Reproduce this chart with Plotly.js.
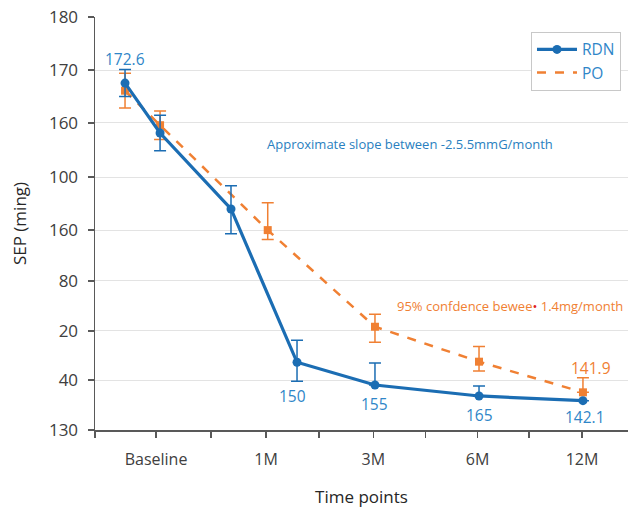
<!DOCTYPE html>
<html>
<head>
<meta charset="utf-8">
<script src="https://cdn.plot.ly/plotly-3.0.1.min.js"></script>
<style>html,body{margin:0;padding:0;background:#fff;}#chart{width:641px;height:508px;}</style>
</head>
<body>
<div id="chart"></div>
<script>
// Category axis
const categories = ['Baseline', '1M', '3M', '6M', '12M'];
const categoryPos = [0, 1.033, 2.04, 3.02, 4.0];
const minorTickPos = [-0.573, 0.516, 1.53, 2.53, 3.5];

// Y axis tick labels (as printed in the reference)
const yTickText = ['180', '170', '160', '100', '160', '80', '20', '40', '130'];
const yTickVals = [180, 173.58, 167.17, 160.63, 154.21, 148.04, 142.0, 136.05, 130];

// RDN series
const rdnX = [-0.291, 0.038, 0.704, 1.324, 2.056, 3.033, 4.009];
const rdnY = [172.0, 165.96, 156.76, 138.2, 135.45, 134.12, 133.55];
const rdnErrPlus = [1.63, 2.14, 2.8, 2.68, 2.66, 1.21, 0];
const rdnErrMinus = [1.63, 2.14, 3.0, 2.3, 0, 0, 0];
const rdnLabels = ['172.6', '', '', '150', '155', '165', '142.1'];

// PO series
const poX = [-0.291, 0.038, 1.049, 2.056, 3.033, 4.009];
const poY = [171.08, 166.9, 154.2, 142.5, 138.27, 134.56];
const poErrPlus = [2.1, 1.73, 3.3, 1.5, 1.84, 1.77];
const poErrMinus = [2.1, 1.73, 1.13, 1.89, 1.13, 0];
const poLabels = ['', '', '', '', '', '141.9'];

const BLUE = '#1b6db3';
const BLUE_TXT = '#2f86c8';
const ORANGE = '#f08033';
const FONT = 'Open Sans, sans-serif';

const traces = [
  {
    x: poX, y: poY, type: 'scatter', mode: 'lines+markers', name: 'PO', showlegend: false,
    line: {color: ORANGE, width: 2.5, dash: 'dash'},
    marker: {color: ORANGE, size: 8, symbol: 'square'},
    error_y: {type: 'data', symmetric: false, array: poErrPlus, arrayminus: poErrMinus,
              color: ORANGE, thickness: 1.5, width: 6},
    cliponaxis: false
  },
  {
    x: rdnX, y: rdnY, type: 'scatter', mode: 'lines+markers', name: 'RDN',
    line: {color: BLUE, width: 3.2},
    marker: {color: BLUE, size: 9, symbol: 'circle'},
    error_y: {type: 'data', symmetric: false, array: rdnErrPlus, arrayminus: rdnErrMinus,
              color: BLUE, thickness: 1.5, width: 6},
    cliponaxis: false
  },
  {
    x: [null], y: [null], type: 'scatter', mode: 'lines', name: 'PO',
    line: {color: ORANGE, width: 2.5, dash: 'dash'}
  }
];

const annotations = [];
const rdnShift = [[0, 24], [0, 0], [0, 0], [-5, -34], [0, -19], [0, -19], [2, -16]];
rdnLabels.forEach((t, i) => {
  if (!t) return;
  annotations.push({x: rdnX[i], y: rdnY[i], text: t, showarrow: false,
    xshift: rdnShift[i][0], yshift: rdnShift[i][1],
    font: {family: FONT, size: 15.5, color: BLUE_TXT}});
});
poLabels.forEach((t, i) => {
  if (!t) return;
  annotations.push({x: poX[i], y: poY[i], text: t, showarrow: false,
    xshift: 8, yshift: 24, font: {family: FONT, size: 15.5, color: ORANGE}});
});
annotations.push({x: 265, y: 144, xref: 'paper', yref: 'paper', showarrow: false,
  text: 'Approximate slope between -2.5.5mmG/month', xanchor: 'left', yanchor: 'middle',
  font: {family: FONT, size: 13, color: '#2a7fc0'}});
annotations.push({x: 395, y: 306, xref: 'paper', yref: 'paper', showarrow: false,
  text: '95% confdence bewee<span style="color:#e0201b">•</span> 1.4mg/month', xanchor: 'left', yanchor: 'middle',
  font: {family: FONT, size: 13, color: ORANGE}});

// convert pixel placements of the free-floating notes to paper coords
const L = 95, R = 13, T = 17, B = 78, W = 641, H = 508;
annotations.forEach(a => {
  if (a.xref === 'paper') {
    a.x = (a.x - L) / (W - L - R);
    a.y = 1 - (a.y - T) / (H - T - B);
  }
});

const layout = {
  width: W, height: H,
  margin: {l: L, r: R, t: T, b: B},
  paper_bgcolor: '#fff', plot_bgcolor: '#fff',
  font: {family: FONT, color: '#404040'},
  showlegend: true,
  legend: {x: 0.818, y: 0.964, xanchor: 'left', yanchor: 'top',
           bordercolor: '#c8c8c8', borderwidth: 1, bgcolor: '#fff',
           font: {family: FONT, size: 15.5, color: '#2f86c8'},
           tracegroupgap: 0, itemwidth: 40},
  xaxis: {
    range: [-0.573, 4.432],
    tickvals: categoryPos.concat(minorTickPos),
    ticktext: categories.concat(minorTickPos.map(() => '')),
    ticks: 'outside', ticklen: 6, tickcolor: '#595959', tickwidth: 1.5,
    showline: true, linecolor: '#595959', linewidth: 1.5,
    showgrid: false, zeroline: false,
    tickfont: {family: FONT, size: 16, color: '#404040'},
    ticklabelstandoff: 8,
    title: {text: 'Time points', font: {family: FONT, size: 17, color: '#262626'}, standoff: 22}
  },
  yaxis: {
    range: [130, 180],
    tickvals: yTickVals, ticktext: yTickText,
    ticks: 'outside', ticklen: 6, tickcolor: '#595959', tickwidth: 1.5,
    showline: true, linecolor: '#595959', linewidth: 1.5,
    showgrid: true, gridcolor: '#e3e3e3', gridwidth: 1, zeroline: false,
    tickfont: {family: FONT, size: 17, color: '#404040'},
    ticklabelstandoff: 6,
    title: {text: 'SEP (ming)', font: {family: FONT, size: 17, color: '#262626'}, standoff: 18}
  },
  annotations: annotations
};

Plotly.newPlot('chart', traces, layout, {displayModeBar: false, staticPlot: true});
</script>
</body>
</html>
